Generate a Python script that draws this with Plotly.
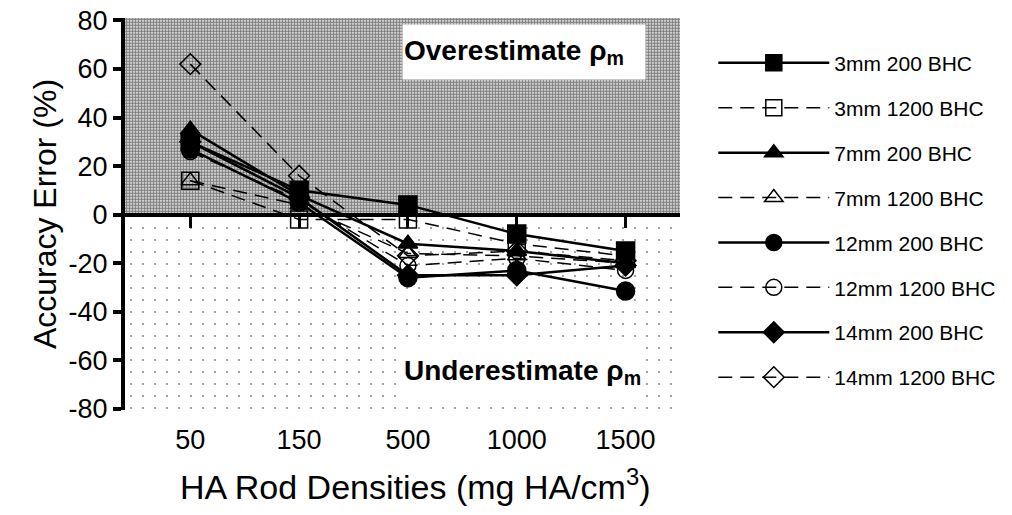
import plotly.graph_objects as go

# ---- data ----
categories = ["50", "150", "500", "1000", "1500"]
series_names = ["3mm 200 BHC", "3mm 1200 BHC", "7mm 200 BHC", "7mm 1200 BHC",
                "12mm 200 BHC", "12mm 1200 BHC", "14mm 200 BHC", "14mm 1200 BHC"]
mm3_200 = [30, 10, 4, -8, -15]
mm3_1200 = [14, -2, -2, -12, -17]
mm7_200 = [35, 8, -12, -15, -20]
mm7_1200 = [14, 4, -16, -17, -20]
mm12_200 = [27, 5, -26, -23, -31.5]
mm12_1200 = [26, 6, -21, -18, -23]
mm14_200 = [30, 7, -25, -25, -21]
mm14_1200 = [62, 16, -17, -15, -19]
y_ticks = [-80, -60, -40, -20, 0, 20, 40, 60, 80]
y_ticktext = [str(v) for v in y_ticks]

series_values = [mm3_200, mm3_1200, mm7_200, mm7_1200, mm12_200, mm12_1200, mm14_200, mm14_1200]
symbols = ["square", "square-open", "triangle-up", "triangle-up-open",
           "circle", "circle-open", "diamond", "diamond-open"]
sizes = [18, 17, 17, 16, 18, 16, 16, 16]

FONT = "Arial, Liberation Sans, sans-serif"
XMIN, XMAX = -0.6, 4.5
YMIN, YMAX = -80.5, 81
xpos = list(range(len(categories)))

fig = go.Figure()

# background regions (over / under estimate)
fig.add_trace(go.Scatter(
    x=[XMIN, XMAX, XMAX, XMIN, XMIN], y=[0, 0, YMAX, YMAX, 0],
    fill="toself", mode="none", showlegend=False, hoverinfo="skip",
    fillcolor="white",
    fillpattern=dict(shape=".", fgcolor="black", bgcolor="white", size=3, solidity=0.7, fillmode="overlay"),
))
fig.add_trace(go.Scatter(
    x=[XMIN, XMAX, XMAX, XMIN, XMIN], y=[YMIN, YMIN, 0, 0, YMIN],
    fill="toself", mode="none", showlegend=False, hoverinfo="skip",
    fillcolor="white",
    fillpattern=dict(shape=".", fgcolor="black", bgcolor="white", size=12, solidity=0.02, fillmode="overlay"),
))

for i, (name, vals) in enumerate(zip(series_names, series_values)):
    dashed = i % 2 == 1
    fig.add_trace(go.Scatter(
        x=xpos, y=vals, name=name, mode="lines+markers",
        line=dict(color="black", width=1.5 if dashed else 2.5, dash="14px,8px" if dashed else "solid"),
        marker=dict(symbol=symbols[i], size=sizes[i], color="black",
                    line=dict(color="black", width=1.5)),
        legendgroup=name,
    ))

# dummy trace to carry the zero-line axis
fig.add_trace(go.Scatter(x=xpos, y=[None] * len(xpos), xaxis="x2", yaxis="y",
                         mode="markers", showlegend=False, hoverinfo="skip"))

zero_pos = (0 - YMIN) / (YMAX - YMIN)

fig.update_layout(
    width=1012, height=515,
    margin=dict(l=117, r=340, t=10, b=113, autoexpand=False),
    paper_bgcolor="white", plot_bgcolor="white",
    font=dict(family=FONT, color="black"),
    xaxis=dict(range=[XMIN, XMAX], tickvals=xpos, ticktext=categories, automargin=False,
               showline=False, showgrid=False, zeroline=False, ticks="",
               ticklabelstandoff=11, tickfont=dict(size=27)),
    xaxis2=dict(range=[XMIN, XMAX], tickvals=xpos, overlaying="x", anchor="free",
                position=zero_pos, side="bottom", showline=True, linewidth=4, linecolor="black",
                ticks="outside", ticklen=11, tickwidth=3, tickcolor="black", automargin=False,
                showticklabels=False, showgrid=False, zeroline=False),
    yaxis=dict(range=[YMIN, YMAX], tickvals=y_ticks, ticktext=y_ticktext,
               showline=True, linewidth=4, linecolor="black", automargin=False,
               ticks="outside", ticklen=8, tickwidth=4, tickcolor="black",
               ticklabeloverflow="allow",
               showgrid=False, zeroline=False, tickfont=dict(size=27),
               title=dict(text="Accuracy Error (%)", font=dict(size=32), standoff=3)),
    legend=dict(x=1.06, y=0.937, xanchor="left", yanchor="top", itemwidth=111,
                font=dict(size=21), tracegroupgap=14.6, bgcolor="rgba(0,0,0,0)"),
    annotations=[
        dict(x=3.07, y=67, xref="x", yref="y", text="<b>Overestimate ρ<sub>m</sub></b>",
             showarrow=False, font=dict(size=28), bgcolor="white", width=240, height=52, align="left"),
        dict(x=3.07, y=-65, xref="x", yref="y", text="<b>Underestimate ρ<sub>m</sub></b>",
             showarrow=False, font=dict(size=28), bgcolor="white", width=240, height=52, align="left"),
        dict(x=0.523, y=-0.19, xref="paper", yref="paper", yanchor="middle",
             text="HA Rod Densities (mg HA/cm<sup>3</sup>)",
             showarrow=False, font=dict(size=34)),
    ],
)

fig.write_html("out.html")
